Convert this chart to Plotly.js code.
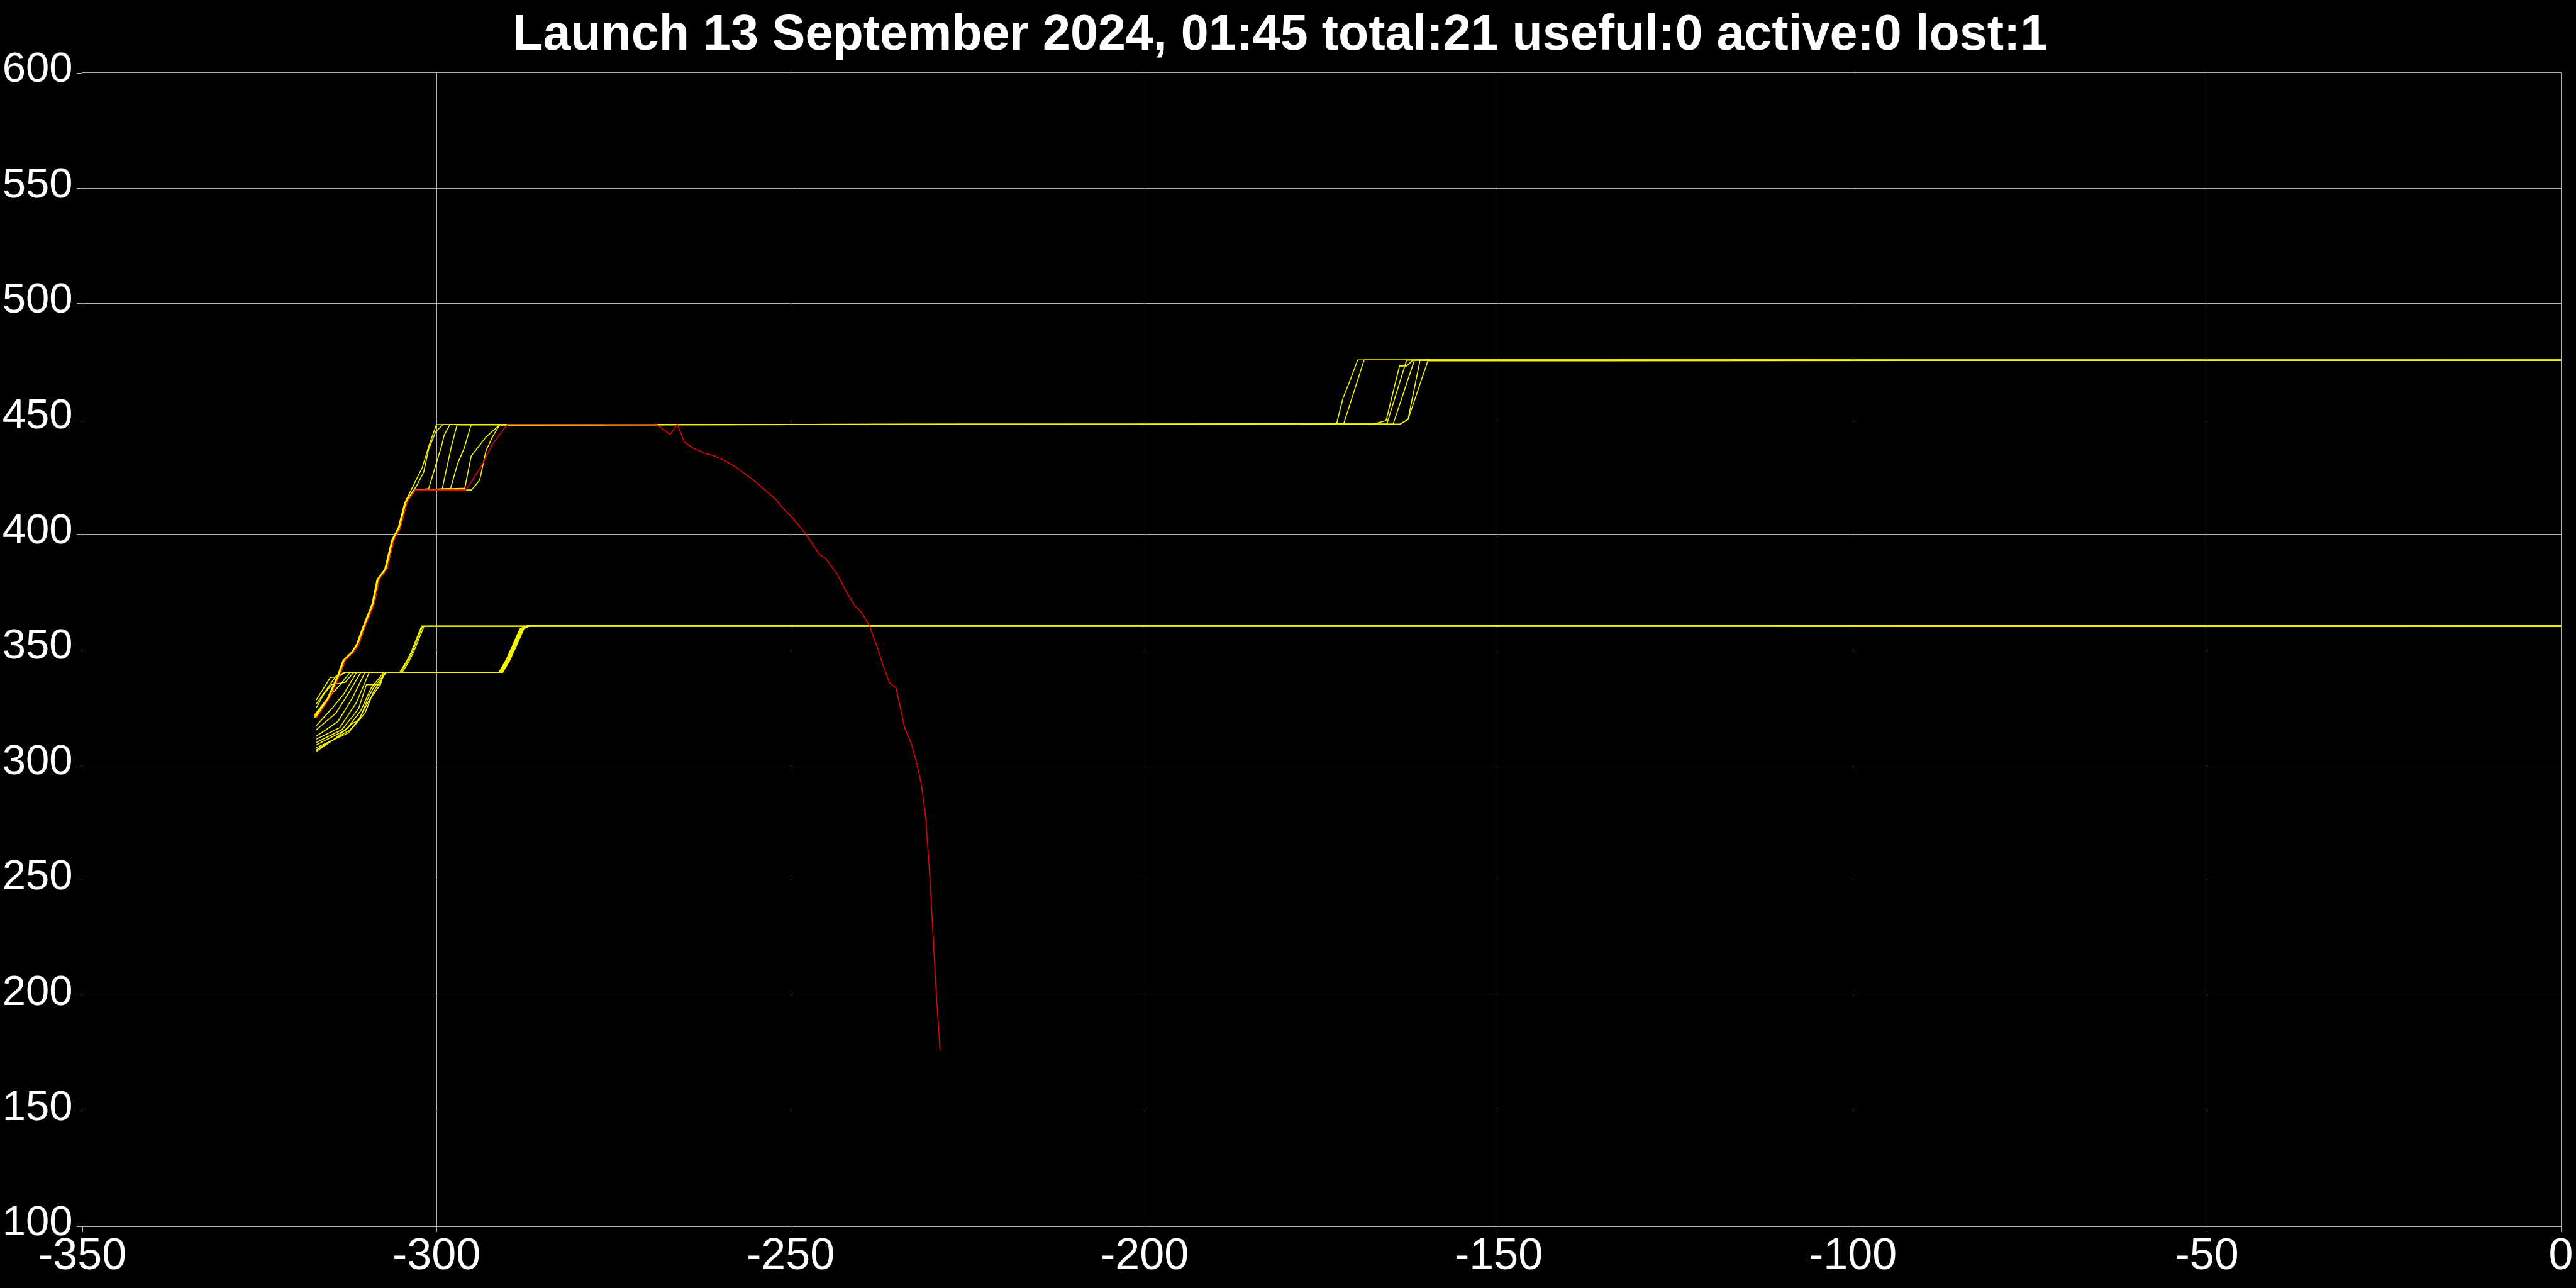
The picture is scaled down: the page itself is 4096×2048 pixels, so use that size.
<!DOCTYPE html>
<html>
<head>
<meta charset="utf-8">
<script src="https://cdn.plot.ly/plotly-3.0.1.min.js"></script>
<style>html,body{margin:0;padding:0;background:#000;}#chart{width:4096px;height:2048px;}</style>
</head>
<body>
<div id="chart"></div>
<script>
// ---- Data (days relative to now, altitude km) ----
const titleText = "Launch 13 September 2024, 01:45 total:21 useful:0 active:0 lost:1";
const xTickVals = [-350, -300, -250, -200, -150, -100, -50, 0];
const yTickVals = [100, 150, 200, 250, 300, 350, 400, 450, 500, 550, 600];

// common climb of the upper group up to the 418 km shelf
const climbX = [-316.96, -315.1, -313.65, -312.9, -311.7, -311.0, -310.1, -309.5, -308.8, -308.1, -307.0, -306.9, -306.0, -305.1, -304.2, -303.9];
const climbY = [320.3, 328.9, 338.9, 345.3, 348.9, 352.1, 359.8, 364.4, 369.8, 380.4, 384.9, 386.2, 397.6, 402.8, 413.5, 415.3];

// upper group (yellow): departures from the climb / 418 shelf to 447, then 447 -> 475
const up1X = [-303.0, -302.0, -301.0, -300.0, -172.9, -172.0, -171.0, -169.9, 0];
const up1Y = [422.6, 429.0, 439.0, 447.6, 447.8, 458.9, 466.6, 475.6, 475.5];
const up2X = [-302.8, -301.8, -301.1, -300.1, -299.1, -171.9, -169.0, 0];
const up2Y = [421.0, 427.0, 437.0, 444.5, 447.6, 447.8, 475.6, 475.5];
const up3X = [-303.0, -301.1, -300.1, -299.3, -298.9, -298.1, -167.7, -165.9, -164.0, -163.0, -162.1, 0];
const up3Y = [419.2, 419.8, 429.9, 438.1, 443.1, 447.6, 447.8, 449.3, 473.0, 473.0, 475.5, 475.5];
const up4X = [-303.0, -299.2, -298.6, -297.9, -297.1, -165.8, -163.0, 0];
const up4Y = [419.2, 419.5, 428.0, 438.0, 447.4, 447.8, 475.5, 475.5];
const up5X = [-303.0, -298.0, -297.0, -296.1, -295.1, -164.9, -161.9, 0];
const up5Y = [419.2, 419.9, 430.8, 437.2, 447.6, 447.8, 475.5, 475.5];
const up6X = [-303.0, -296.0, -295.1, -293.0, -291.1, -163.9, -162.8, -161.1, 0];
const up6Y = [419.2, 420.0, 433.9, 442.2, 447.4, 447.8, 449.8, 475.5, 475.5];
const up7X = [-303.0, -295.06, -293.9, -293.0, -292.1, -291.1, -163.9, -162.8, -160.0, 0];
const up7Y = [419.2, 419.2, 423.5, 436.3, 442.2, 447.4, 447.8, 449.8, 475.2, 475.5];

// lost satellite (red): shelf, rise to 447, then decay
const lostX = [-303.0, -295.9, -295.1, -293.6, -292.1, -290.0, -268.9, -267.0, -266.0, -265.0, -263.9, -262.1, -260.9, -259.5, -257.8, -255.0, -252.2, -250.8, -249.9, -247.9, -247.1, -245.9, -245.0, -243.4, -242.0, -240.9, -240.0, -238.8, -238.2, -237.6, -237.0, -236.0, -235.1, -233.9, -232.9, -232.1, -231.5, -230.9, -230.3, -229.4, -228.9];
const lostY = [419.2, 419.2, 422.6, 429.9, 439.0, 447.6, 447.6, 443.3, 447.7, 440.0, 437.6, 435.1, 434.1, 432.3, 429.3, 422.9, 415.4, 410.4, 407.7, 400.4, 396.7, 391.2, 389.4, 382.7, 374.4, 369.0, 366.2, 360.1, 354.6, 349.8, 343.7, 335.4, 333.5, 316.2, 308.9, 299.8, 291.2, 276.8, 250.0, 200.0, 176.4];

// lower group: initial rise to the 340 km shelf
const low1X = [-316.96, -314.98, -313.94, -312.9];            const low1Y = [328.2, 338.0, 338.0, 340.1];
const low2X = [-316.96, -315.9, -314.8, -313.94, -312.9, -311.7]; const low2Y = [324.8, 330.7, 334.8, 335.3, 335.8, 340.1];
const low3X = [-316.96, -315.1, -313.6, -312.2];              const low3Y = [322.5, 329.8, 334.8, 340.1];
const low4X = [-316.96, -314.8, -313.1, -311.3];              const low4Y = [317.1, 324.4, 330.7, 340.1];
const low5X = [-316.96, -314.2, -312.5, -310.7];              const low5Y = [315.3, 322.5, 330.7, 340.1];
const low6X = [-316.96, -313.9, -311.9, -310.1];              const low6Y = [312.5, 318.9, 328.9, 340.1];
const low7X = [-316.96, -313.65, -311.3, -309.5];             const low7Y = [311.2, 316.2, 327.1, 340.1];
const low8X = [-316.96, -313.35, -311.0, -309.9, -307.9, -307.5]; const low8Y = [309.8, 315.3, 324.4, 334.8, 334.8, 340.1];
const low9X = [-316.96, -312.76, -310.69, -309.21, -307.43];  const low9Y = [308.7, 315.3, 323.5, 333.5, 340.1];
const low10X = [-316.96, -312.46, -310.09, -308.91, -307.13]; const low10Y = [307.5, 313.9, 322.5, 331.6, 340.1];
const low11X = [-316.96, -312.17, -310.98, -309.5, -308.02, -307.3]; const low11Y = [306.6, 315.3, 319.8, 328.0, 334.5, 340.1];
const low12X = [-316.96, -314.24, -311.87, -310.84, -309.8, -308.91, -307.13]; const low12Y = [305.9, 311.6, 318.0, 319.8, 328.0, 333.5, 340.1];
const low13X = [-316.96, -315.5, -314.2, -313.0];             const low13Y = [326.5, 333.0, 338.5, 340.1];

// lower group: step 340 -> 360 (early and late)
const earlyStepX = [-305.06, -304.17, -303.43, -301.95, 0];
const earlyStepY = [340.1, 344.4, 348.9, 360.2, 360.2];
const lateStepX = [-291.0, -290.0, -288.8, -288.0, -287.0, 0];
const lateStepY = [340.1, 345.3, 353.5, 359.1, 360.4, 360.2];
const lateShift = [0, 0.25, -0.2, 0.1, 0.35, -0.1, 0.15, 0.3, 0, -0.15];
const earlyShift = [0, 0.2, -0.15];

// ---- Build traces ----
const yellow = 'rgb(245,245,0)';
const red = 'rgb(235,0,0)';
const traces = [];
function addLine(x, y, color) {
  traces.push({x: x, y: y, type: 'scatter', mode: 'lines', line: {color: color, width: 1.6}, hoverinfo: 'skip'});
}
const lowStarts = [[low1X, low1Y], [low2X, low2Y], [low3X, low3Y], [low4X, low4Y], [low5X, low5Y], [low6X, low6Y], [low7X, low7Y], [low8X, low8Y], [low9X, low9Y], [low10X, low10Y], [low11X, low11Y], [low12X, low12Y], [low13X, low13Y]];
lowStarts.forEach((s, i) => {
  let stepX, stepY;
  if (i < 3) { stepX = earlyStepX.map((v, k) => k < earlyStepX.length - 1 ? v + earlyShift[i] : v); stepY = earlyStepY; }
  else { const sh = lateShift[i - 3]; stepX = lateStepX.map((v, k) => k < lateStepX.length - 1 ? v + sh : v); stepY = lateStepY; }
  addLine(s[0].concat(stepX), s[1].concat(stepY), yellow);
});
const ups = [[up1X, up1Y], [up2X, up2Y], [up3X, up3Y], [up4X, up4Y], [up5X, up5Y], [up6X, up6Y], [up7X, up7Y]];
const climbShift = [-0.3, -0.2, -0.1, 0.0, -0.25, -0.15, -0.05];
const climbYShift = [1.2, 0.8, 0.4, 1.6, 0.2, 1.0, 0.6];
ups.forEach((u, i) => {
  const cx = climbX.map(v => v + climbShift[i]);
  const cy = climbY.map((v, k) => k === 0 ? v + climbYShift[i] : v);
  addLine(cx.concat(u[0]), cy.concat(u[1]), yellow);
});
addLine(climbX.concat(lostX), climbY.concat(lostY), red);

const grid = 'rgb(180,180,180)';
const xTickFont = {family: 'Liberation Sans, Arial, sans-serif', size: 70, color: '#ffffff'};
const yTickFont = {family: 'Liberation Sans, Arial, sans-serif', size: 67, color: '#ffffff'};
const layout = {
  width: 4096, height: 2048,
  paper_bgcolor: '#000000', plot_bgcolor: '#000000',
  margin: {l: 131, r: 24, t: 116, b: 98, pad: 0},
  showlegend: false,
  title: {text: titleText, font: {family: 'Liberation Sans, Arial, sans-serif', size: 79, color: '#ffffff', weight: 'bold'},
          x: 0.497, xref: 'container', xanchor: 'center', y: 0.975, yref: 'container', yanchor: 'middle'},
  xaxis: {range: [-350, 0], tickvals: xTickVals, ticktext: xTickVals.map(String), showgrid: true, gridcolor: grid, gridwidth: 1,
          zeroline: false, showline: true, linecolor: grid, linewidth: 1, mirror: true,
          ticks: 'outside', ticklen: 8, tickcolor: grid, tickfont: xTickFont, ticklabelstandoff: -25},
  yaxis: {range: [100, 600], tickvals: yTickVals, ticktext: yTickVals.map(String), showgrid: true, gridcolor: grid, gridwidth: 1,
          zeroline: false, showline: true, linecolor: grid, linewidth: 1, mirror: true,
          ticks: 'outside', ticklen: 8, tickcolor: grid, tickfont: yTickFont, ticklabelstandoff: -7, ticklabelshift: -9}
};
Plotly.newPlot('chart', traces, layout, {staticPlot: true, displayModeBar: false});
</script>
</body>
</html>
